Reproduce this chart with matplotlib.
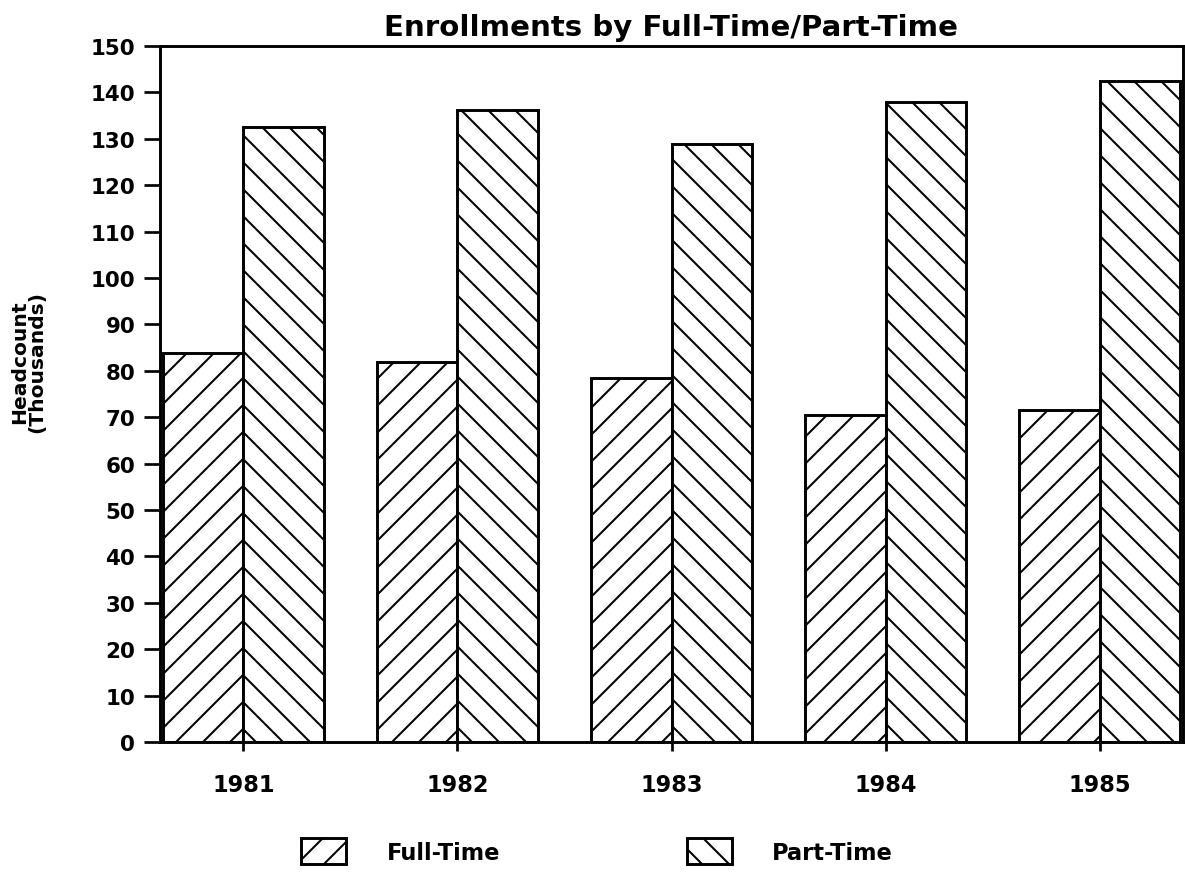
import matplotlib
matplotlib.use("Agg")
import matplotlib.pyplot as plt
from matplotlib.patches import Patch
import numpy as np

years = ["1981", "1982", "1983", "1984", "1985"]
full_time = [83.8, 82.0, 78.5, 70.5, 71.5]
part_time = [132.5, 136.2, 128.8, 137.9, 142.4]
yticks = list(range(0, 151, 10))

DPI = 162
W, H = 1185, 877
plt.rcParams['hatch.linewidth'] = 0.9
plt.rcParams['font.family'] = ['DejaVu Sans']
plt.rcParams['font.weight'] = 'bold'

fig = plt.figure(figsize=(W / DPI, H / DPI), dpi=DPI)
ax = fig.add_axes([160 / W, (H - 743) / H, (1183 - 160) / W, (743 - 47) / H])

x = np.arange(len(years))
bw = 0.375
ax.bar(x - bw / 2, full_time, bw, facecolor='white', edgecolor='black',
       hatch='//', linewidth=1.3, label='Full-Time')
ax.bar(x + bw / 2, part_time, bw, facecolor='white', edgecolor='black',
       hatch='\\\\', linewidth=1.3, label='Part-Time')

ax.set_xlim(-0.39, 4.39)
ax.set_ylim(0, 150)
ax.set_yticks(yticks)
ax.set_yticklabels([str(v) for v in yticks], fontsize=9.5, fontweight='bold')
ax.set_xticks(x)
ax.set_xticklabels(years, fontsize=10, fontweight='bold')
ax.tick_params(axis='y', direction='out', length=7, width=1.2, pad=4)
ax.tick_params(axis='x', direction='out', length=4, width=1.2, pad=10)
for s in ax.spines.values():
    s.set_linewidth(1.3)

ax.set_title("Enrollments by Full-Time/Part-Time", fontsize=13,
             fontweight='bold', pad=5)
fig.text(28 / W, 1 - 362 / H, "Headcount\n(Thousands)", rotation=90,
         ha='center', va='center', fontsize=9, fontweight='bold',
         linespacing=0.85)

handles = [Patch(facecolor='white', edgecolor='black', hatch='//', linewidth=1.3),
           Patch(facecolor='white', edgecolor='black', hatch='\\\\', linewidth=1.3)]
fig.legend(handles, ["Full-Time", "Part-Time"], loc='center',
           bbox_to_anchor=(597 / W, 1 - 852 / H), ncol=2, frameon=False,
           handlelength=2.0, handleheight=1.35, handletextpad=1.8,
           columnspacing=8.3, prop={'weight': 'bold', 'size': 10})

fig.savefig("out.png", dpi=DPI)
